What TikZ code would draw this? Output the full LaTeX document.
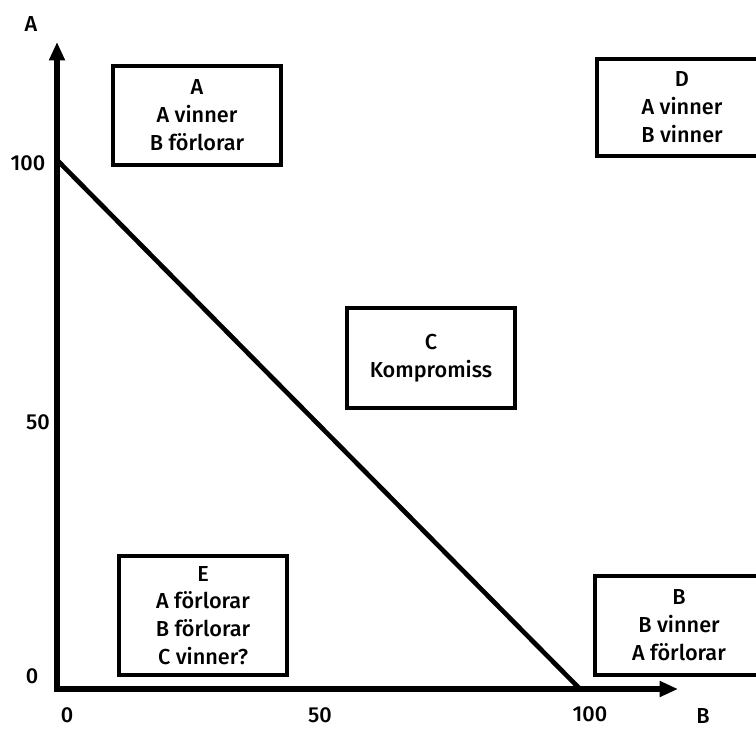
\documentclass[tikz,border=0pt]{standalone}
\usepackage{fontspec}
\setmainfont{Fira Sans}[BoldFont={Fira Sans Medium}]
\usetikzlibrary{arrows.meta}
\begin{document}
\begin{tikzpicture}[x=0.03cm,y=-0.03cm,
    box/.style={draw, line width=3.6pt, align=center, inner sep=0pt,
        font=\fontsize{18.5}{23.8}\selectfont\bfseries},
    lbl/.style={font=\fontsize{18.5}{22}\selectfont\bfseries},
    axis/.style={line width=4.4pt, line join=miter,
        {Triangle[length=0.55cm,width=0.45cm]}-{Triangle[length=0.55cm,width=0.45cm]}}]

    \useasboundingbox (0,0) rectangle (756,729);

    % Define the corners of the diagram
    \coordinate (O) at (57,689);
    \coordinate (Atip) at (57,42);
    \coordinate (Btip) at (678,689);
    \coordinate (A100) at (57,160);
    \coordinate (B100) at (580,689);

    % Draw the axes
    \draw[axis] (Atip) -- (O) -- (Btip);

    % Draw the line between 100 and 100
    \draw[line width=4pt] (A100) -- (B100);

    % Add the axis names
    \node[lbl] (nameA) at (31,24) {A};
    \node[lbl] (nameB) at (703,716) {B};

    % Add the tick labels
    \node[lbl] (y100) at (28,163) {100};
    \node[lbl] (y50) at (38,422) {50};
    \node[lbl] (y0) at (32,676) {0};
    \node[lbl] (x0) at (67,715) {0};
    \node[lbl] (x50) at (320,715) {50};
    \node[lbl] (x100) at (590,714) {100};

    % Add the boxes for the outcomes
    \node[box, minimum width=5.04cm, minimum height=2.97cm] (boxA) at (197,115.5)
        {A\\A vinner\\B förlorar};
    \node[box, minimum width=5.1cm, minimum height=2.91cm] (boxD) at (682,107.5)
        {D\\A vinner\\B vinner};
    \node[box, minimum width=5.04cm, minimum height=3.0cm] (boxC) at (431,358)
        {C\\Kompromiss};
    \node[box, minimum width=5.04cm, minimum height=3.57cm] (boxE) at (203,615.5)
        {E\\A förlorar\\B förlorar\\C vinner?};
    \node[box, minimum width=5.04cm, minimum height=2.97cm] (boxB) at (679,625.5)
        {B\\B vinner\\A förlorar};

\end{tikzpicture}
\end{document}
